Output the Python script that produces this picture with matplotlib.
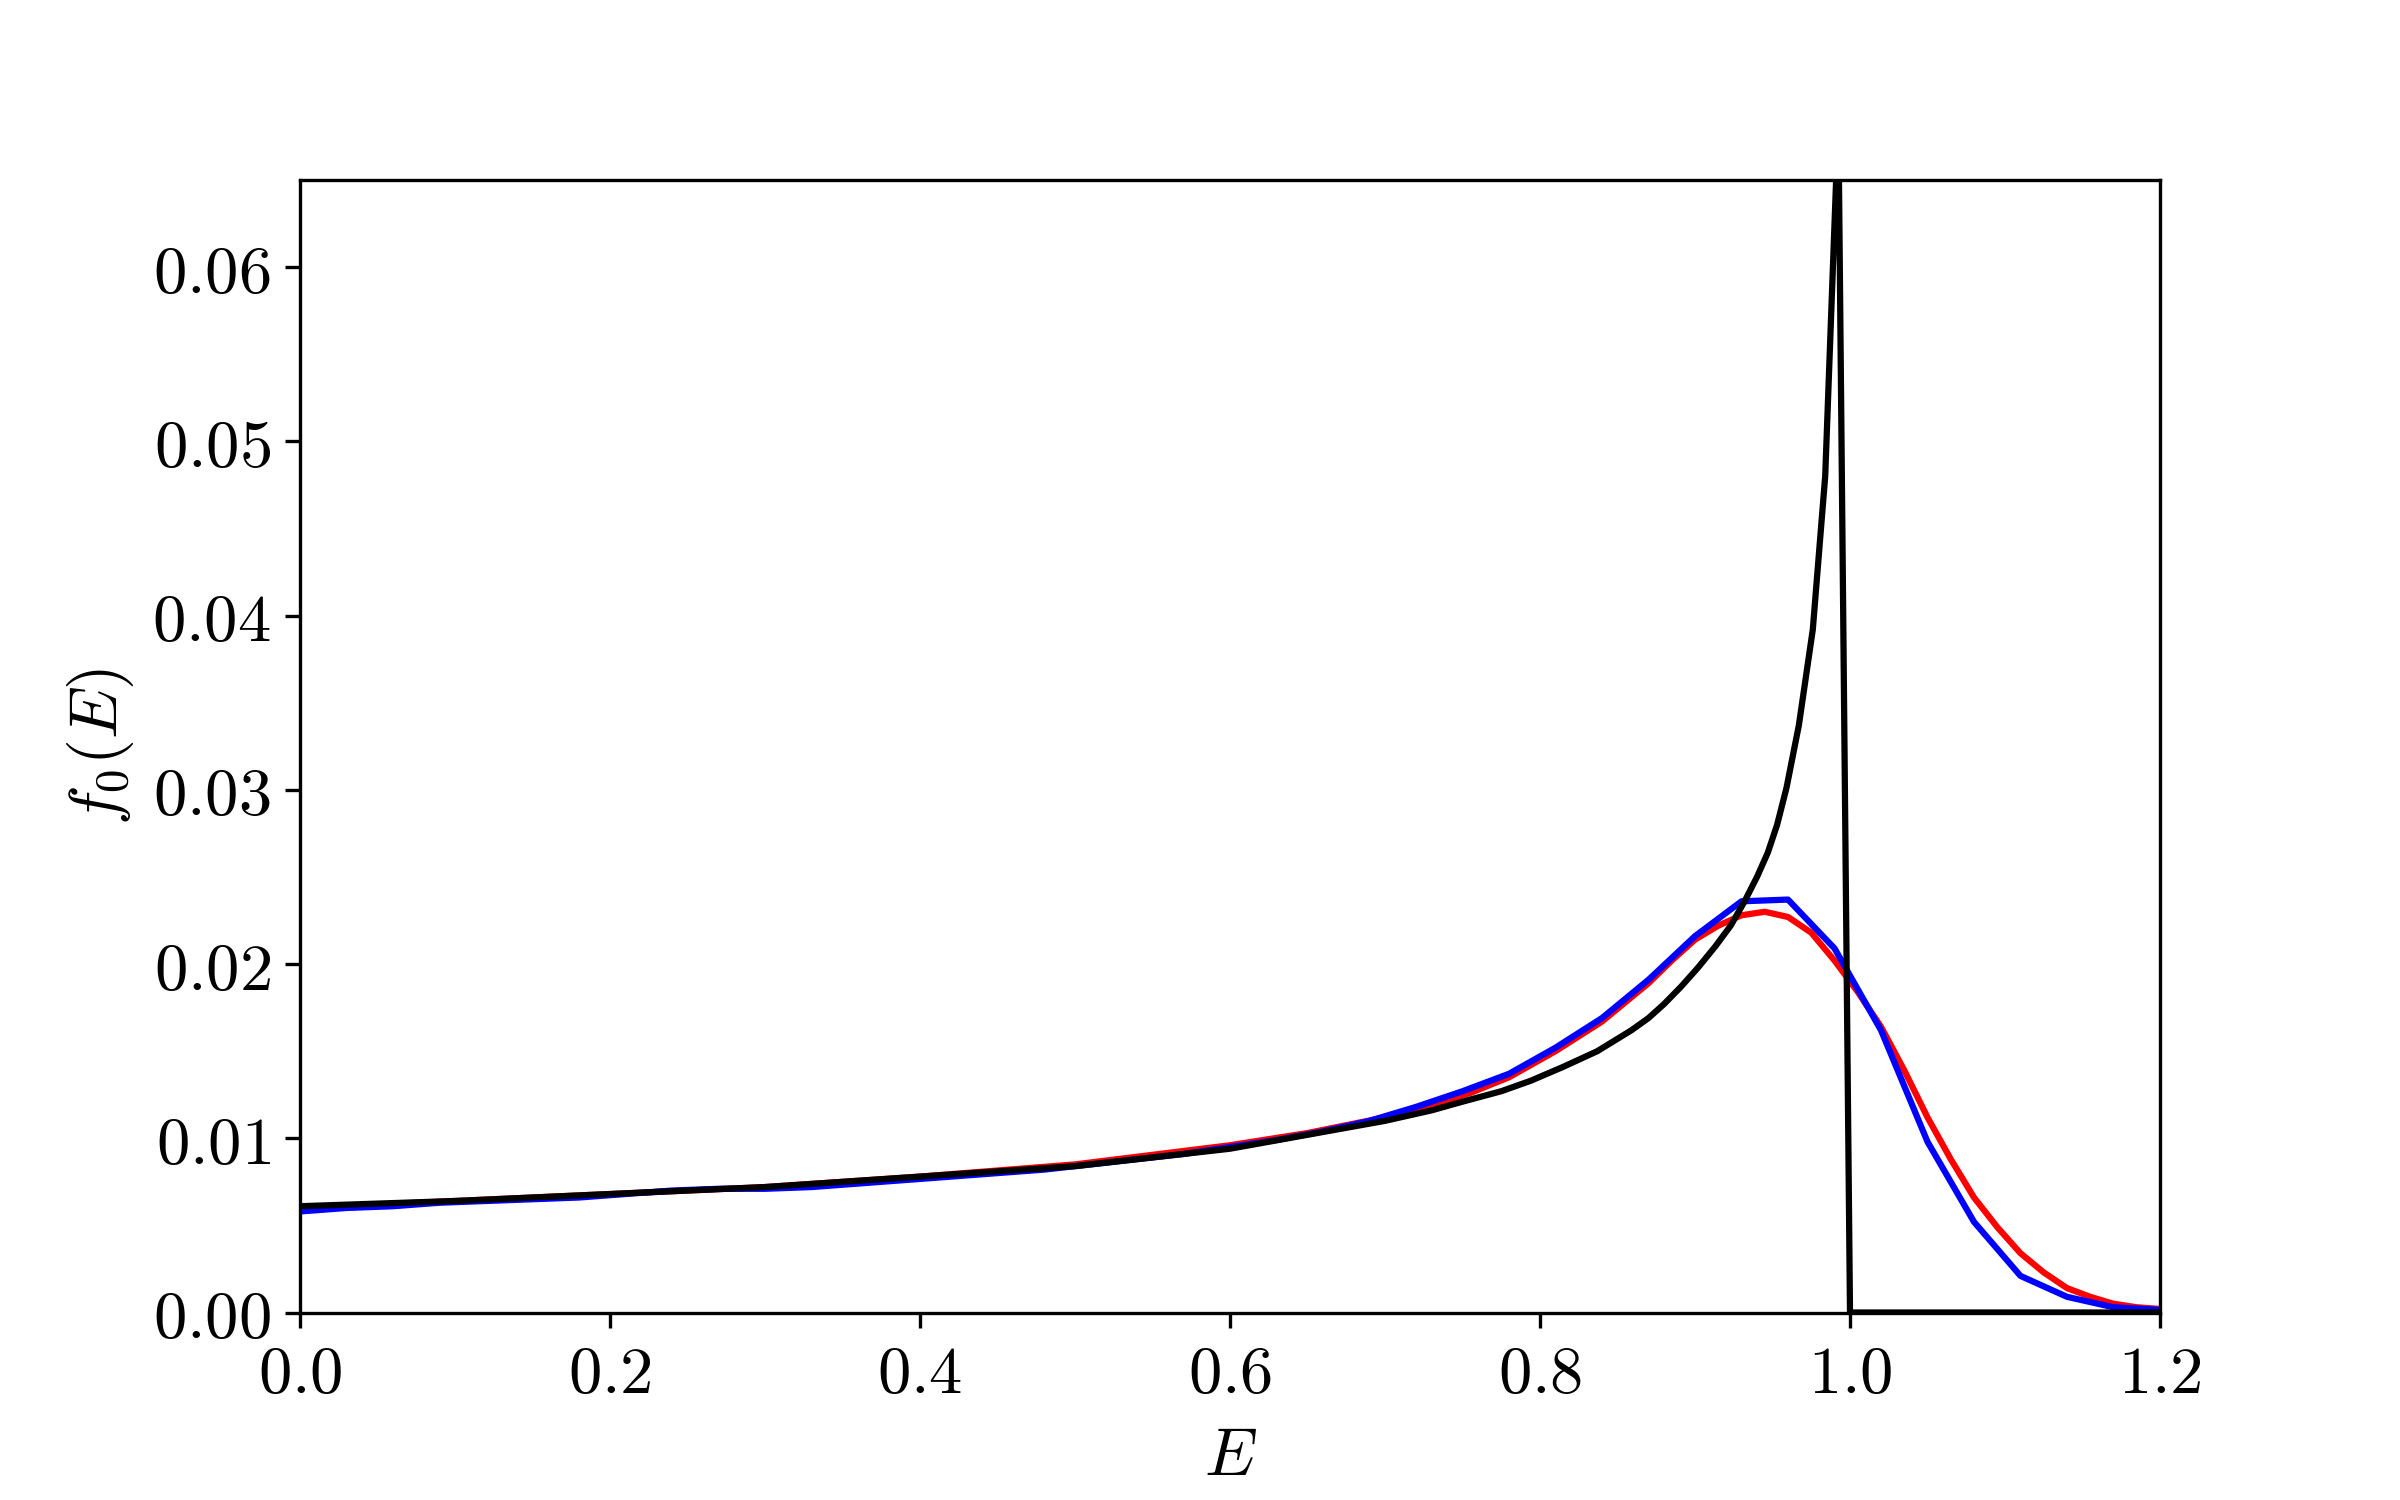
import matplotlib
matplotlib.use("Agg")
import matplotlib.pyplot as plt
from matplotlib.ticker import FuncFormatter, MultipleLocator

plt.rcParams['mathtext.fontset'] = 'cm'
plt.rcParams['font.family'] = ['DejaVu Serif']
plt.rcParams['font.size'] = 16

# Black curve (sampled, diverging near E = 1)
E_black = [0.0, 0.1, 0.2, 0.3, 0.4, 0.5, 0.6, 0.65, 0.7, 0.73, 0.75, 0.775, 0.794,
           0.815, 0.837, 0.859, 0.870, 0.880, 0.891, 0.902, 0.913, 0.923, 0.932,
           0.940, 0.947, 0.953, 0.959, 0.967, 0.976, 0.984, 0.9925, 1.0, 1.2]
f_black = [0.0061, 0.0064, 0.0068, 0.0072, 0.0078, 0.0084, 0.0094, 0.0102, 0.0110,
           0.0116, 0.0121, 0.0127, 0.0133, 0.0141, 0.0150, 0.0162, 0.0169, 0.0177,
           0.0187, 0.0198, 0.0210, 0.0222, 0.0236, 0.0250, 0.0264, 0.0280, 0.0301,
           0.0337, 0.0392, 0.0480, 0.0685, 0.0, 0.0]

# Blue curve (coarse grid, step 0.03)
E_blue = [0.00, 0.03, 0.06, 0.09, 0.12, 0.15, 0.18, 0.21, 0.24, 0.27, 0.30, 0.33,
          0.36, 0.39, 0.42, 0.45, 0.48, 0.51, 0.54, 0.57, 0.60, 0.63, 0.66, 0.69,
          0.72, 0.75, 0.78, 0.81, 0.84, 0.87, 0.90, 0.93, 0.96, 0.99, 1.02, 1.05,
          1.08, 1.11, 1.14, 1.17, 1.20]
f_blue = [0.0058, 0.0060, 0.0061, 0.0063, 0.0064, 0.0065, 0.0066, 0.0068, 0.0070,
          0.0071, 0.0071, 0.0072, 0.0074, 0.0076, 0.0078, 0.0080, 0.0082, 0.0085,
          0.0088, 0.0091, 0.0095, 0.0099, 0.0104, 0.0110, 0.0118, 0.0127, 0.0137,
          0.0152, 0.0169, 0.0191, 0.0216, 0.0236, 0.0237, 0.0209, 0.0162, 0.0098,
          0.0052, 0.0021, 0.0009, 0.0003, 0.00015]

# Red curve (smooth)
E_red = [0.0, 0.1, 0.2, 0.3, 0.4, 0.5, 0.6, 0.65, 0.7, 0.73, 0.755, 0.78, 0.81,
         0.84, 0.87, 0.885, 0.90, 0.915, 0.93, 0.945, 0.96, 0.975, 0.99, 1.005,
         1.02, 1.035, 1.05, 1.065, 1.08, 1.095, 1.11, 1.125, 1.14, 1.155, 1.17,
         1.185, 1.2]
f_red = [0.0060, 0.0064, 0.0068, 0.0072, 0.0078, 0.0085, 0.0096, 0.0103, 0.0112,
         0.0119, 0.0126, 0.0135, 0.0150, 0.0167, 0.0189, 0.0202, 0.0214, 0.0222,
         0.0228, 0.0230, 0.0227, 0.0218, 0.0202, 0.0184, 0.0164, 0.0139, 0.0112,
         0.0088, 0.0066, 0.0049, 0.0034, 0.0023, 0.0014, 0.0009, 0.0005, 0.0003,
         0.0002]

fig = plt.figure(figsize=(8, 5), dpi=300)
ax = fig.add_subplot(111)
fig.subplots_adjust(left=0.125, right=0.9, top=0.88, bottom=0.125)

ax.plot(E_red, f_red, color='red', lw=1.5)
ax.plot(E_blue, f_blue, color='blue', lw=1.5)
ax.plot(E_black, f_black, color='black', lw=1.5)

ax.set_xlim(0, 1.2)
ax.set_ylim(0, 0.065)
ax.xaxis.set_major_locator(MultipleLocator(0.2))
ax.yaxis.set_major_locator(MultipleLocator(0.01))
ax.xaxis.set_major_formatter(FuncFormatter(lambda v, p: r'$%.1f$' % v))
ax.yaxis.set_major_formatter(FuncFormatter(lambda v, p: r'$%.2f$' % v))
ax.set_xlabel(r'$E$')
ax.set_ylabel(r'$f_0(E)$')

fig.savefig('out.png', dpi=300)
